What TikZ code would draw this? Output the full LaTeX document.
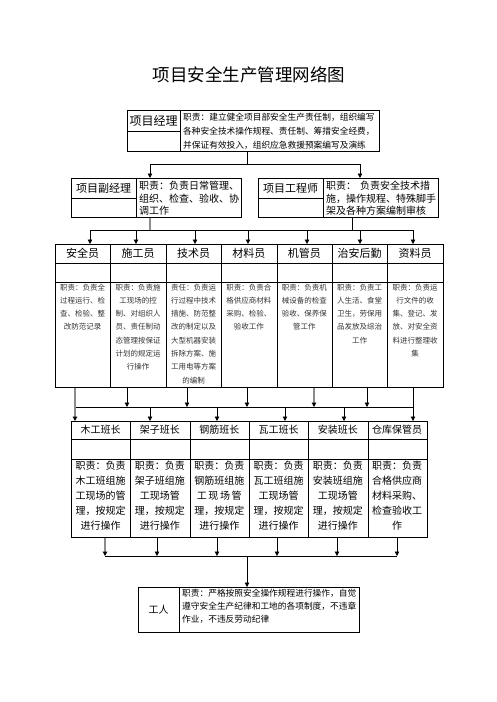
\documentclass[tikz,border=0pt]{standalone}
\usepackage{fontspec}
\setmainfont{Noto Sans CJK SC}
\usetikzlibrary{arrows.meta,calc}
\newcommand\fz[2]{\fontsize{#1}{#2}\selectfont}
\begin{document}
\begin{tikzpicture}[x=1pt,y=-1pt,
  box/.style={draw,line width=1pt,inner sep=0pt,anchor=north west},
  cellline/.style={line width=1pt},
  conn/.style={line width=0.8pt},
  gconn/.style={line width=1.1pt,draw=black!45},
  tip/.style={-{Triangle[width=4.5pt,length=4.5pt,color=black]}},
  arr/.style={conn,tip},
  garr/.style={gconn,tip},
  desc/.style={inner sep=0pt,align=center,anchor=north},
  ldesc/.style={inner sep=0pt,align=left,anchor=north west}
]
\useasboundingbox (0,0) rectangle (496,702);

% title
\node[font=\fz{17.5}{20}] (title) at (249,75) {项目安全生产管理网络图};

% project manager
\node[box,minimum width=252pt,minimum height=41pt] (pm) at (127,110) {};
\draw[cellline] (180,110) -- (180,151);
\draw[cellline] (127,131) -- (180,131);
\node[font=\fz{12}{14}] (pmt) at (153.5,121) {项目经理};
\node[ldesc,font=\fz{8.7}{14}] (pmd) at (183,112.5) {职责：建立健全项目部安全生产责任制，组织编写\\各种安全技术操作规程、责任制、筹措安全经费，\\并保证有效投入，组织应急救援预案编写及演练};

% deputy manager
\node[box,minimum width=170pt,minimum height=39pt] (dpm) at (71,178) {};
\draw[cellline] (136,178) -- (136,217);
\draw[cellline] (71,198) -- (136,198);
\node[font=\fz{11}{13}] (dpmt) at (103.5,188) {项目副经理};
\node[ldesc,font=\fz{10}{12.5}] (dpmd) at (139,181) {职责：负责日常管理、\\组织、检查、验收、协\\调工作};

% project engineer
\node[box,minimum width=180pt,minimum height=39pt] (pe) at (258,178) {};
\draw[cellline] (323,178) -- (323,217);
\draw[cellline] (258,198) -- (323,198);
\node[font=\fz{11}{13}] (pet) at (290.5,188) {项目工程师};
\node[ldesc,font=\fz{10}{12.5}] (ped) at (326,181) {职责：\hspace{4pt}负责安全技术措\\施，操作规程、特殊脚手\\架及各种方案编制审核};

% connectors level 1
\coordinate (j1) at (247,164);
\coordinate (j1l) at (150,164);
\coordinate (j1r) at (360,164);
\draw[conn] (pm.south -| j1) -- (j1);
\draw[conn] (j1l) -- (j1r);
\draw[arr] (j1l) -- (j1l |- dpm.north);
\draw[arr] (j1r) -- (j1r |- pe.north);

% row 3 boxes
\foreach \i/\n/\hd/\tx in {
 0/a/安全员/{职责：负责全\\过程运行、检\\查、检验、整\\改防范记录},
 1/b/施工员/{职责：负责施\\工现场的控\\制、对组织人\\员、责任制动\\态管理按保证\\计划的规定运\\行操作},
 2/c/技术员/{责任：负责运\\行过程中技术\\措施、防范整\\改的制定以及\\大型机器安装\\拆除方案、施\\工用电等方案\\的编制},
 3/d/材料员/{职责：负责合\\格供应商材料\\采购、检验、\\验收工作},
 4/e/机管员/{职责：负责机\\械设备的检查\\验收、保养保\\管工作},
 5/f/治安后勤/{职责：负责工\\人生活、食堂\\卫生，劳保用\\品发放及综治\\工作},
 6/g/资料员/{职责：负责运\\行文件的收\\集、登记、发\\放、对安全资\\料进行整理收\\集}}{
  \node[box,minimum width=55.4pt,minimum height=143pt] (r3\n) at (55+55.4*\i,244) {};
  \node[font=\fz{11}{13}] (r3\n h) at (82.7+55.4*\i,253.5) {\hd};
  \node[desc,font=\fz{7.5}{13.3},text=black!80] (r3\n d) at (82.7+55.4*\i,283.5) {\tx};
}
\draw[cellline] (r3a.west |- 0,263) -- (r3g.east |- 0,263);
\draw[cellline] (r3a.west |- 0,282) -- (r3g.east |- 0,282);

% connectors level 2
\coordinate (j2l) at (150,230);
\coordinate (j2r) at (352,230);
\coordinate (b2s) at (90,230);
\coordinate (b2e) at (413,230);
\draw[gconn] (dpm.south -| j2l) -- (j2l);
\draw[conn] (pe.south -| j2r) -- (j2r);
\draw[conn] (b2s) -- (b2e);
\foreach \x/\n in {90/a,136/b,195/c,248/d,307/e,360/f,413/g}{
  \coordinate (e3\n) at (\x,230);
  \draw[arr] (e3\n) -- (e3\n |- r3\n.north);
}

% row 4 boxes
\foreach \i/\n/\hd/\tx in {
 0/a/木工班长/{职责：负责\\木工班组施\\工现场的管\\理，按规定\\进行操作},
 1/b/架子班长/{职责：负责\\架子班组施\\工现场管\\理，按规定\\进行操作},
 2/c/钢筋班长/{职责：负责\\钢筋班组施\\工\,现\,场\,管\\理，按规定\\进行操作},
 3/d/瓦工班长/{职责：负责\\瓦工班组施\\工现场管\\理，按规定\\进行操作},
 4/e/安装班长/{职责：负责\\安装班组施\\工现场管\\理，按规定\\进行操作},
 5/f/仓库保管员/{职责：负责\\合格供应商\\材料采购、\\检查验收工\\作}}{
  \node[box,minimum width=59.3pt,minimum height=116pt] (r4\n) at (71+59.3*\i,421) {};
  \node[font=\fz{10}{12}] (r4\n h) at (100.65+59.3*\i,430) {\hd};
  \node[desc,font=\fz{10}{15}] (r4\n d) at (100.65+59.3*\i,461) {\tx};
}
\draw[cellline] (r4a.west |- 0,439) -- (r4f.east |- 0,439);
\draw[cellline] (r4a.west |- 0,459) -- (r4f.east |- 0,459);

% connectors level 3
\coordinate (p1) at (75,407);
\coordinate (p7) at (413,407);
\draw[conn] (p1) -- (p7);
\draw[garr] (p1 |- r3a.south) -- (p1 |- r4a.north);
\draw[arr] (p7 |- r3g.south) -- (p7 |- r4f.north);
\foreach \x/\n in {127/b,187/c,247/d,367/f}{
  \coordinate (q\n) at (\x,407);
  \draw[arr] (q\n |- r3\n.south) -- (q\n);
}
\coordinate (qe) at (314,407);
\draw[garr] (qe |- r3e.south) -- (qe);
\foreach \x/\n in {150/b,217/c,285/d,344/e}{
  \coordinate (s\n) at (\x,407);
  \draw[arr] (s\n) -- (s\n |- r4\n.north);
}

% worker box
\node[box,minimum width=221pt,minimum height=45pt] (wk) at (138,587) {};
\draw[cellline] (179,587) -- (179,632);
\node[font=\fz{10}{12}] (wkt) at (158.5,609.5) {工人};
\node[ldesc,font=\fz{8.7}{12.8}] (wkd) at (182,589) {职责：严格按照安全操作规程进行操作，自觉\\遵守安全生产纪律和工地的各项制度，不违章\\作业，不违反劳动纪律};

% connectors level 4
\coordinate (u1) at (105,556);
\coordinate (u6) at (397,556);
\coordinate (uc) at (247,556);
\draw[conn] (u1) -- (u6);
\draw[garr] (u1 |- r4a.south) -- (u1);
\foreach \x/\n in {157/b,217/c,277/d,337/e,397/f}{
  \coordinate (t\n) at (\x,556);
  \draw[arr] (t\n |- r4\n.south) -- (t\n);
}
\draw[arr] (uc) -- (uc |- wk.north);
\end{tikzpicture}
\end{document}
